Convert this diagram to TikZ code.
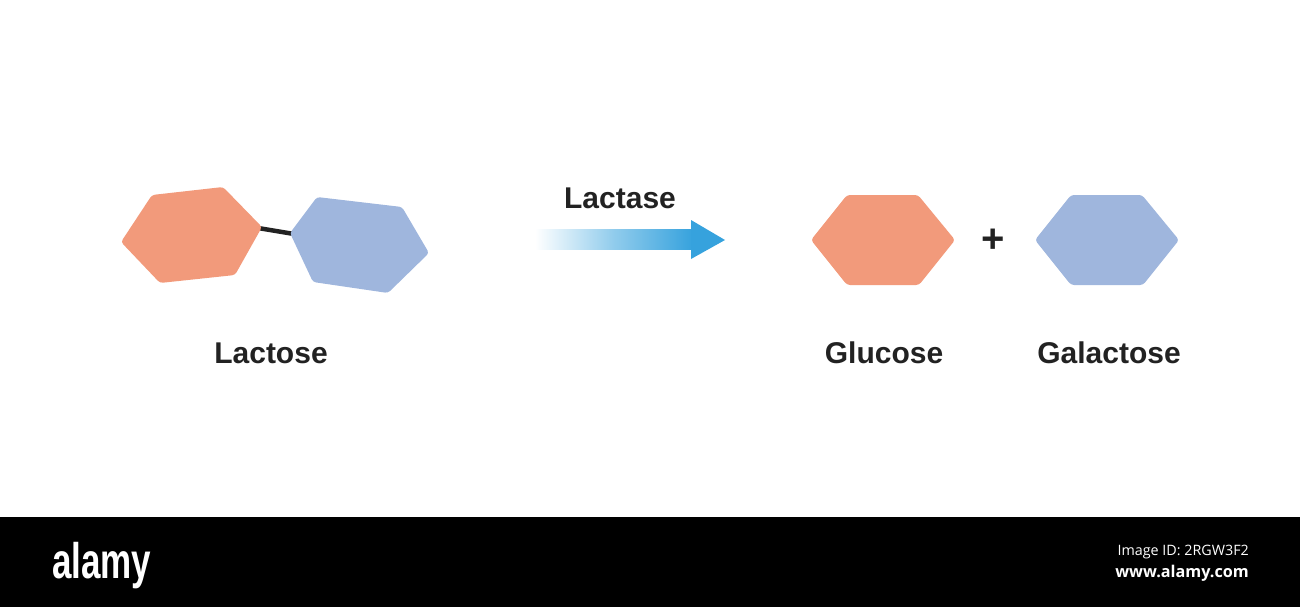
\documentclass[tikz,border=0pt]{standalone}
\usepackage{fontspec}
\setmainfont{Liberation Sans}
\newfontfamily\barfont{Open Sans}
\usetikzlibrary{positioning}
\definecolor{sugarorange}{RGB}{242,154,123}
\definecolor{sugarblue}{RGB}{159,182,221}
\definecolor{arrowblue}{RGB}{54,162,221}
\definecolor{inkgray}{RGB}{34,34,34}
\newcommand{\prodhex}[3]{\coordinate (#2) at #3;
  \fill[#1,rounded corners=3pt,shift={#3}] (-72,0) -- (-36,-45) -- (35,-45) -- (72,0) -- (36,45) -- (-36,45) -- cycle;}
\tikzset{
  sugarlabel/.style={font=\bfseries\fontsize{30}{36}\selectfont,text=inkgray,inner sep=0pt},
  barlabel/.style={font=\barfont\fontsize{14.3}{18}\selectfont,text=white,inner sep=0pt}
}

\begin{document}
\begin{tikzpicture}[x=1pt,y=-1pt]
		\useasboundingbox (0,0) rectangle (1300,607);
		% lactose: bonded pair
		\coordinate (bondL) at (258,228); \coordinate (bondR) at (294,234);
		\draw[line width=4.5pt,inkgray] (bondL) -- (bondR);
		\fill[sugarorange,rounded corners=3pt] (121,242) -- (152,195) -- (223,187) -- (262,227) -- (235,275) -- (160,283) -- cycle;
		\fill[sugarblue,rounded corners=3pt] (290,233) -- (317,197) -- (402,207) -- (429,253) -- (388,293) -- (313,282) -- cycle;
		\node[sugarlabel] (lactose) at (271,353) {Lactose};
		% enzyme arrow
		\fill[left color=white,right color=arrowblue,middle color=arrowblue!55] (535,229) rectangle (693,249);
		\coordinate (tip) at (725,240);
		\fill[arrowblue] (691,220) -- (tip) -- (691,259) -- cycle;
		\node[sugarlabel] (lactase) at (620,198) {Lactase};
		% products
		\prodhex{sugarorange}{glu}{(883,240)}
		\prodhex{sugarblue}{gal}{(1107,240)}
		\node[sugarlabel,font=\bfseries\fontsize{40}{44}\selectfont] (plus) at (993,241) {+};
		\node[sugarlabel] (glucose) at (884,353) {Glucose};
		\node[sugarlabel] (galactose) at (1109,353) {Galactose};
		% stock bar
		\fill[black] (0,517) rectangle (1300,607);
		\node[font=\bfseries\fontsize{50}{56}\selectfont,text=white,inner sep=0pt,anchor=base west,xscale=0.7] (alamy) at (52,578) {alamy};
		\node[barlabel,anchor=base east] (imgid) at (1249,555) {Image ID: 2RGW3F2};
		\node[barlabel,font=\barfont\bfseries\fontsize{16.2}{20}\selectfont,anchor=base east] (site) at (1249,577) {www.alamy.com};
\end{tikzpicture}
\end{document}
